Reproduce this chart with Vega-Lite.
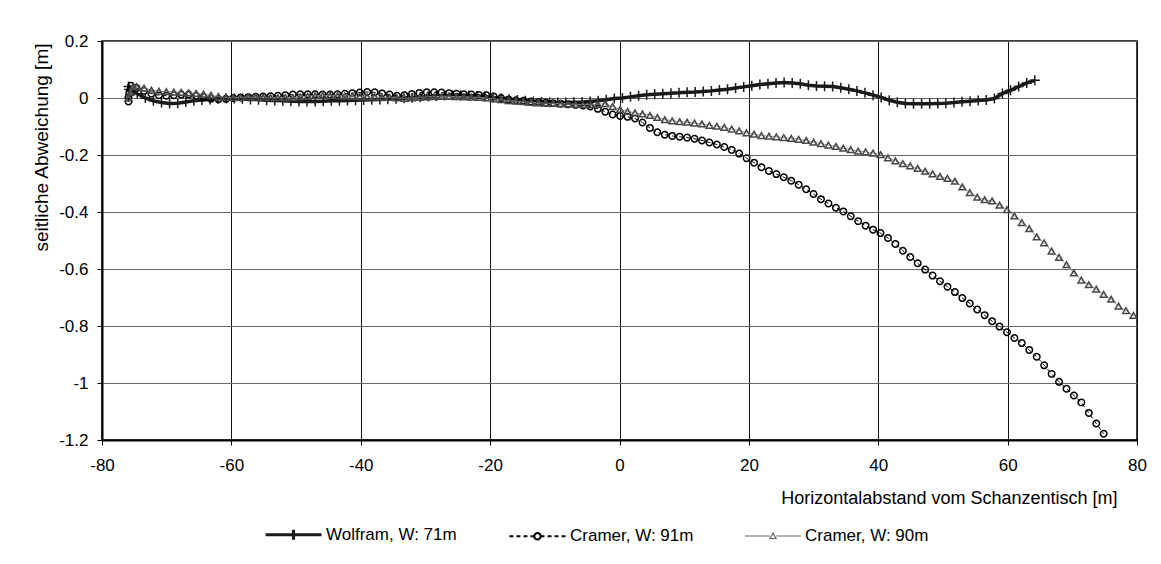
{
  "$schema": "https://vega.github.io/schema/vega-lite/v6.json",
  "width": 1035,
  "height": 399,
  "autosize": {"type": "none"},
  "padding": {"left": 102, "top": 41, "right": 24, "bottom": 124},
  "background": "white",
  "config": {
    "font": "Liberation Sans",
    "view": {"stroke": "#000", "strokeWidth": 1.5},
    "axis": {
      "labelFont": "Liberation Sans",
      "titleFont": "Liberation Sans",
      "labelFontSize": 17,
      "titleFontSize": 18,
      "titleFontWeight": "normal",
      "labelColor": "#000",
      "titleColor": "#000",
      "domainColor": "#000",
      "domainWidth": 2,
      "tickColor": "#000",
      "tickSize": 5,
      "tickWidth": 1,
      "gridOpacity": 1,
      "gridWidth": 1,
      "labelFlush": false
    },
    "legend": {
      "labelFont": "Liberation Sans",
      "labelFontSize": 17,
      "labelColor": "#000",
      "padding": 0
    }
  },
  "datasets": {
    "w": [
      {"x": -75.9, "y": 0.04}, {"x": -75.8, "y": 0.03}, {"x": -74.55, "y": 0.015}, {"x": -73.3, "y": 0.0}, {"x": -72.05, "y": -0.01},
      {"x": -70.8, "y": -0.016}, {"x": -69.55, "y": -0.019}, {"x": -68.3, "y": -0.018}, {"x": -67.05, "y": -0.014}, {"x": -65.8, "y": -0.01},
      {"x": -64.55, "y": -0.007}, {"x": -63.3, "y": -0.005}, {"x": -62.05, "y": -0.003}, {"x": -60.8, "y": -0.002}, {"x": -59.55, "y": -0.002},
      {"x": -58.3, "y": -0.003}, {"x": -57.05, "y": -0.005}, {"x": -55.8, "y": -0.006}, {"x": -54.55, "y": -0.008}, {"x": -53.3, "y": -0.009},
      {"x": -52.05, "y": -0.01}, {"x": -50.8, "y": -0.011}, {"x": -49.55, "y": -0.012}, {"x": -48.3, "y": -0.012}, {"x": -47.05, "y": -0.012},
      {"x": -45.8, "y": -0.011}, {"x": -44.55, "y": -0.01}, {"x": -43.3, "y": -0.01}, {"x": -42.05, "y": -0.009}, {"x": -40.8, "y": -0.008},
      {"x": -39.55, "y": -0.007}, {"x": -38.3, "y": -0.006}, {"x": -37.05, "y": -0.005}, {"x": -35.8, "y": -0.004}, {"x": -34.55, "y": -0.003},
      {"x": -33.3, "y": -0.001}, {"x": -32.05, "y": 0.001}, {"x": -30.8, "y": 0.003}, {"x": -29.55, "y": 0.005}, {"x": -28.3, "y": 0.007},
      {"x": -27.05, "y": 0.009}, {"x": -25.8, "y": 0.01}, {"x": -24.55, "y": 0.01}, {"x": -23.3, "y": 0.009}, {"x": -22.05, "y": 0.007},
      {"x": -20.8, "y": 0.005}, {"x": -19.55, "y": 0.002}, {"x": -18.3, "y": -0.001}, {"x": -17.05, "y": -0.004}, {"x": -15.8, "y": -0.007},
      {"x": -14.55, "y": -0.01}, {"x": -13.3, "y": -0.012}, {"x": -12.05, "y": -0.014}, {"x": -10.8, "y": -0.015}, {"x": -9.55, "y": -0.016},
      {"x": -8.3, "y": -0.016}, {"x": -7.05, "y": -0.015}, {"x": -5.8, "y": -0.014}, {"x": -4.55, "y": -0.012}, {"x": -3.3, "y": -0.01},
      {"x": -2.05, "y": -0.006}, {"x": -0.8, "y": -0.002}, {"x": 0.45, "y": 0.0}, {"x": 1.7, "y": 0.004}, {"x": 2.95, "y": 0.008},
      {"x": 4.2, "y": 0.011}, {"x": 5.45, "y": 0.013}, {"x": 6.7, "y": 0.015}, {"x": 7.95, "y": 0.017}, {"x": 9.2, "y": 0.018},
      {"x": 10.45, "y": 0.02}, {"x": 11.7, "y": 0.021}, {"x": 12.95, "y": 0.023}, {"x": 14.2, "y": 0.025}, {"x": 15.45, "y": 0.028},
      {"x": 16.7, "y": 0.031}, {"x": 17.95, "y": 0.035}, {"x": 19.2, "y": 0.039}, {"x": 20.45, "y": 0.043}, {"x": 21.7, "y": 0.047},
      {"x": 22.95, "y": 0.05}, {"x": 24.2, "y": 0.053}, {"x": 25.45, "y": 0.054}, {"x": 26.7, "y": 0.053}, {"x": 27.95, "y": 0.05},
      {"x": 29.2, "y": 0.045}, {"x": 30.45, "y": 0.042}, {"x": 31.7, "y": 0.041}, {"x": 32.95, "y": 0.04}, {"x": 34.2, "y": 0.036},
      {"x": 35.45, "y": 0.031}, {"x": 36.7, "y": 0.025}, {"x": 37.95, "y": 0.018}, {"x": 39.2, "y": 0.01}, {"x": 40.45, "y": 0.002},
      {"x": 41.7, "y": -0.008}, {"x": 42.95, "y": -0.015}, {"x": 44.2, "y": -0.019}, {"x": 45.45, "y": -0.02}, {"x": 46.7, "y": -0.02},
      {"x": 47.95, "y": -0.02}, {"x": 49.2, "y": -0.019}, {"x": 50.45, "y": -0.018}, {"x": 51.7, "y": -0.016}, {"x": 52.95, "y": -0.013},
      {"x": 54.2, "y": -0.011}, {"x": 55.45, "y": -0.009}, {"x": 56.7, "y": -0.007}, {"x": 57.95, "y": -0.002}, {"x": 59.2, "y": 0.016},
      {"x": 60.45, "y": 0.027}, {"x": 61.7, "y": 0.04}, {"x": 62.95, "y": 0.053}, {"x": 64.2, "y": 0.062}
    ],
    "a": [
      {"x": -75.9, "y": -0.012}, {"x": -75.9, "y": 0.002}, {"x": -75.8, "y": 0.016}, {"x": -75.6, "y": 0.03}, {"x": -75.5, "y": 0.043},
      {"x": -74.65, "y": 0.035}, {"x": -73.5, "y": 0.025}, {"x": -72.35, "y": 0.015}, {"x": -71.2, "y": 0.01}, {"x": -70.05, "y": 0.008},
      {"x": -68.9, "y": 0.01}, {"x": -67.75, "y": 0.012}, {"x": -66.6, "y": 0.012}, {"x": -65.45, "y": 0.008}, {"x": -64.3, "y": 0.003},
      {"x": -63.15, "y": -0.002}, {"x": -62.0, "y": -0.004}, {"x": -60.85, "y": -0.003}, {"x": -59.7, "y": 0.0}, {"x": -58.55, "y": 0.002},
      {"x": -57.4, "y": 0.003}, {"x": -56.25, "y": 0.004}, {"x": -55.1, "y": 0.005}, {"x": -53.95, "y": 0.006}, {"x": -52.8, "y": 0.008},
      {"x": -51.65, "y": 0.01}, {"x": -50.5, "y": 0.012}, {"x": -49.35, "y": 0.013}, {"x": -48.2, "y": 0.013}, {"x": -47.05, "y": 0.013},
      {"x": -45.9, "y": 0.012}, {"x": -44.75, "y": 0.012}, {"x": -43.6, "y": 0.013}, {"x": -42.45, "y": 0.015}, {"x": -41.3, "y": 0.017},
      {"x": -40.15, "y": 0.019}, {"x": -39.0, "y": 0.021}, {"x": -37.85, "y": 0.02}, {"x": -36.7, "y": 0.016}, {"x": -35.55, "y": 0.012},
      {"x": -34.4, "y": 0.008}, {"x": -33.25, "y": 0.01}, {"x": -32.1, "y": 0.014}, {"x": -30.95, "y": 0.018}, {"x": -29.8, "y": 0.02},
      {"x": -28.65, "y": 0.02}, {"x": -27.5, "y": 0.019}, {"x": -26.35, "y": 0.017}, {"x": -25.2, "y": 0.015}, {"x": -24.05, "y": 0.013},
      {"x": -22.9, "y": 0.012}, {"x": -21.75, "y": 0.011}, {"x": -20.6, "y": 0.01}, {"x": -19.45, "y": 0.005}, {"x": -18.3, "y": 0.0},
      {"x": -17.15, "y": -0.005}, {"x": -16.0, "y": -0.008}, {"x": -14.85, "y": -0.01}, {"x": -13.7, "y": -0.012}, {"x": -12.55, "y": -0.014},
      {"x": -11.4, "y": -0.016}, {"x": -10.25, "y": -0.018}, {"x": -9.1, "y": -0.02}, {"x": -7.95, "y": -0.022}, {"x": -6.8, "y": -0.024},
      {"x": -5.65, "y": -0.026}, {"x": -4.5, "y": -0.03}, {"x": -3.35, "y": -0.038}, {"x": -2.2, "y": -0.048}, {"x": -1.05, "y": -0.058},
      {"x": 0.1, "y": -0.063}, {"x": 1.25, "y": -0.066}, {"x": 2.4, "y": -0.072}, {"x": 3.55, "y": -0.086}, {"x": 4.7, "y": -0.105},
      {"x": 5.85, "y": -0.12}, {"x": 7.0, "y": -0.129}, {"x": 8.15, "y": -0.133}, {"x": 9.3, "y": -0.136}, {"x": 10.45, "y": -0.139},
      {"x": 11.6, "y": -0.143}, {"x": 12.75, "y": -0.149}, {"x": 13.9, "y": -0.156}, {"x": 15.05, "y": -0.163}, {"x": 16.2, "y": -0.172},
      {"x": 17.35, "y": -0.182}, {"x": 18.5, "y": -0.195}, {"x": 19.65, "y": -0.211}, {"x": 20.8, "y": -0.227}, {"x": 21.95, "y": -0.243},
      {"x": 23.1, "y": -0.256}, {"x": 24.25, "y": -0.267}, {"x": 25.4, "y": -0.278}, {"x": 26.55, "y": -0.29}, {"x": 27.7, "y": -0.304},
      {"x": 28.85, "y": -0.32}, {"x": 30.0, "y": -0.337}, {"x": 31.15, "y": -0.355}, {"x": 32.3, "y": -0.37}, {"x": 33.45, "y": -0.385},
      {"x": 34.6, "y": -0.398}, {"x": 35.75, "y": -0.415}, {"x": 36.9, "y": -0.432}, {"x": 38.05, "y": -0.448}, {"x": 39.2, "y": -0.462},
      {"x": 40.35, "y": -0.474}, {"x": 41.5, "y": -0.491}, {"x": 42.65, "y": -0.512}, {"x": 43.8, "y": -0.536}, {"x": 44.95, "y": -0.558},
      {"x": 46.1, "y": -0.58}, {"x": 47.25, "y": -0.602}, {"x": 48.4, "y": -0.623}, {"x": 49.55, "y": -0.643}, {"x": 50.7, "y": -0.662},
      {"x": 51.85, "y": -0.681}, {"x": 53.0, "y": -0.702}, {"x": 54.15, "y": -0.721}, {"x": 55.3, "y": -0.742}, {"x": 56.45, "y": -0.762},
      {"x": 57.6, "y": -0.783}, {"x": 58.75, "y": -0.802}, {"x": 59.9, "y": -0.822}, {"x": 61.05, "y": -0.842}, {"x": 62.2, "y": -0.86},
      {"x": 63.35, "y": -0.884}, {"x": 64.5, "y": -0.908}, {"x": 65.65, "y": -0.938}, {"x": 66.8, "y": -0.968}, {"x": 67.95, "y": -0.996},
      {"x": 69.1, "y": -1.02}, {"x": 70.25, "y": -1.044}, {"x": 71.4, "y": -1.068}, {"x": 72.55, "y": -1.105}, {"x": 73.7, "y": -1.142},
      {"x": 74.85, "y": -1.178}
    ],
    "b": [
      {"x": -75.9, "y": 0.0}, {"x": -75.6, "y": 0.02}, {"x": -75.2, "y": 0.04}, {"x": -74.65, "y": 0.04}, {"x": -73.5, "y": 0.035},
      {"x": -72.35, "y": 0.028}, {"x": -71.2, "y": 0.024}, {"x": -70.05, "y": 0.022}, {"x": -68.9, "y": 0.021}, {"x": -67.75, "y": 0.02},
      {"x": -66.6, "y": 0.018}, {"x": -65.45, "y": 0.016}, {"x": -64.3, "y": 0.014}, {"x": -63.15, "y": 0.01}, {"x": -62.0, "y": 0.005},
      {"x": -60.85, "y": 0.002}, {"x": -59.7, "y": 0.001}, {"x": -58.55, "y": 0.002}, {"x": -57.4, "y": 0.003}, {"x": -56.25, "y": 0.003},
      {"x": -55.1, "y": 0.003}, {"x": -53.95, "y": 0.002}, {"x": -52.8, "y": 0.001}, {"x": -51.65, "y": 0.001}, {"x": -50.5, "y": 0.002},
      {"x": -49.35, "y": 0.004}, {"x": -48.2, "y": 0.006}, {"x": -47.05, "y": 0.008}, {"x": -45.9, "y": 0.009}, {"x": -44.75, "y": 0.009},
      {"x": -43.6, "y": 0.008}, {"x": -42.45, "y": 0.007}, {"x": -41.3, "y": 0.006}, {"x": -40.15, "y": 0.005}, {"x": -39.0, "y": 0.004},
      {"x": -37.85, "y": 0.004}, {"x": -36.7, "y": 0.003}, {"x": -35.55, "y": 0.002}, {"x": -34.4, "y": 0.0}, {"x": -33.25, "y": -0.001},
      {"x": -32.1, "y": 0.0}, {"x": -30.95, "y": 0.002}, {"x": -29.8, "y": 0.004}, {"x": -28.65, "y": 0.005}, {"x": -27.5, "y": 0.006},
      {"x": -26.35, "y": 0.006}, {"x": -25.2, "y": 0.005}, {"x": -24.05, "y": 0.004}, {"x": -22.9, "y": 0.003}, {"x": -21.75, "y": 0.002},
      {"x": -20.6, "y": 0.0}, {"x": -19.45, "y": -0.003}, {"x": -18.3, "y": -0.006}, {"x": -17.15, "y": -0.009}, {"x": -16.0, "y": -0.011},
      {"x": -14.85, "y": -0.013}, {"x": -13.7, "y": -0.015}, {"x": -12.55, "y": -0.017}, {"x": -11.4, "y": -0.018}, {"x": -10.25, "y": -0.019},
      {"x": -9.1, "y": -0.02}, {"x": -7.95, "y": -0.021}, {"x": -6.8, "y": -0.022}, {"x": -5.65, "y": -0.023}, {"x": -4.5, "y": -0.024},
      {"x": -3.35, "y": -0.022}, {"x": -2.2, "y": -0.02}, {"x": -1.05, "y": -0.03}, {"x": 0.1, "y": -0.04}, {"x": 1.25, "y": -0.047},
      {"x": 2.4, "y": -0.052}, {"x": 3.55, "y": -0.056}, {"x": 4.7, "y": -0.061}, {"x": 5.85, "y": -0.068}, {"x": 7.0, "y": -0.076},
      {"x": 8.15, "y": -0.08}, {"x": 9.3, "y": -0.083}, {"x": 10.45, "y": -0.085}, {"x": 11.6, "y": -0.088}, {"x": 12.75, "y": -0.091},
      {"x": 13.9, "y": -0.096}, {"x": 15.05, "y": -0.099}, {"x": 16.2, "y": -0.103}, {"x": 17.35, "y": -0.109}, {"x": 18.5, "y": -0.115},
      {"x": 19.65, "y": -0.122}, {"x": 20.8, "y": -0.127}, {"x": 21.95, "y": -0.132}, {"x": 23.1, "y": -0.134}, {"x": 24.25, "y": -0.136},
      {"x": 25.4, "y": -0.139}, {"x": 26.55, "y": -0.142}, {"x": 27.7, "y": -0.145}, {"x": 28.85, "y": -0.149}, {"x": 30.0, "y": -0.155},
      {"x": 31.15, "y": -0.16}, {"x": 32.3, "y": -0.165}, {"x": 33.45, "y": -0.17}, {"x": 34.6, "y": -0.176}, {"x": 35.75, "y": -0.181},
      {"x": 36.9, "y": -0.186}, {"x": 38.05, "y": -0.189}, {"x": 39.2, "y": -0.193}, {"x": 40.35, "y": -0.199}, {"x": 41.5, "y": -0.21},
      {"x": 42.65, "y": -0.221}, {"x": 43.8, "y": -0.23}, {"x": 44.95, "y": -0.238}, {"x": 46.1, "y": -0.247}, {"x": 47.25, "y": -0.257},
      {"x": 48.4, "y": -0.266}, {"x": 49.55, "y": -0.275}, {"x": 50.7, "y": -0.282}, {"x": 51.85, "y": -0.292}, {"x": 53.0, "y": -0.312},
      {"x": 54.15, "y": -0.332}, {"x": 55.3, "y": -0.348}, {"x": 56.45, "y": -0.357}, {"x": 57.6, "y": -0.361}, {"x": 58.75, "y": -0.376},
      {"x": 59.9, "y": -0.392}, {"x": 61.05, "y": -0.414}, {"x": 62.2, "y": -0.437}, {"x": 63.35, "y": -0.458}, {"x": 64.5, "y": -0.487},
      {"x": 65.65, "y": -0.508}, {"x": 66.8, "y": -0.537}, {"x": 67.95, "y": -0.559}, {"x": 69.1, "y": -0.585}, {"x": 70.25, "y": -0.614},
      {"x": 71.4, "y": -0.639}, {"x": 72.55, "y": -0.655}, {"x": 73.7, "y": -0.671}, {"x": 74.85, "y": -0.689}, {"x": 76.0, "y": -0.706},
      {"x": 77.15, "y": -0.73}, {"x": 78.3, "y": -0.746}, {"x": 79.45, "y": -0.763}
    ],
    "leg": [
      {"s": "Wolfram, W: 71m"},
      {"s": "Cramer, W: 91m"},
      {"s": "Cramer, W: 90m"}
    ]
  },
  "encoding": {
    "x": {
      "field": "x",
      "type": "quantitative",
      "scale": {"domain": [-80, 80], "nice": false, "zero": false},
      "axis": {
        "values": [-80, -60, -40, -20, 0, 20, 40, 60, 80],
        "labelExpr": "'' + datum.value",
        "grid": true,
        "gridColor": "#111",
        "labelPadding": 12,
        "title": "Horizontalabstand vom Schanzentisch [m]",
        "titleAlign": "right",
        "titleAnchor": "end",
        "titleX": 1015,
        "titleY": 63,
        "titleBaseline": "alphabetic"
      }
    },
    "y": {
      "field": "y",
      "type": "quantitative",
      "scale": {"domain": [-1.2, 0.2], "nice": false, "zero": false},
      "axis": {
        "values": [-1.2, -1, -0.8, -0.6, -0.4, -0.2, 0, 0.2],
        "labelExpr": "'' + datum.value",
        "grid": true,
        "gridColor": "#666",
        "labelPadding": 9,
        "title": "seitliche Abweichung [m]",
        "titleFontSize": 19,
        "titleAngle": 270,
        "titleAlign": "right",
        "titleBaseline": "alphabetic",
        "titleX": -55,
        "titleY": 2
      }
    }
  },
  "layer": [
    {
      "data": {"name": "w"},
      "mark": {"type": "line", "color": "#1a1a1a", "strokeWidth": 3.5}
    },
    {
      "data": {"name": "w"},
      "mark": {"type": "point", "shape": "M-1,0H1M0,-1V1", "size": 100, "filled": false, "stroke": "#1a1a1a", "strokeWidth": 1.5, "opacity": 1}
    },
    {
      "data": {"name": "a"},
      "mark": {"type": "line", "color": "#000", "strokeWidth": 1, "strokeDash": [4, 3]}
    },
    {
      "data": {"name": "a"},
      "mark": {"type": "point", "shape": "circle", "size": 42, "filled": false, "stroke": "#000", "strokeWidth": 1.5, "opacity": 1}
    },
    {
      "data": {"name": "b"},
      "mark": {"type": "line", "color": "#999", "strokeWidth": 1}
    },
    {
      "data": {"name": "b"},
      "mark": {"type": "point", "shape": "triangle-up", "size": 44, "filled": false, "stroke": "#474747", "strokeWidth": 1.5, "opacity": 1}
    },
    {
      "data": {"name": "leg"},
      "mark": {"type": "point", "filled": false, "opacity": 0},
      "encoding": {
        "x": {"value": 0},
        "y": {"value": 0},
        "color": {
          "field": "s",
          "type": "nominal",
          "sort": null,
          "scale": {"domain": ["Wolfram, W: 71m", "Cramer, W: 91m", "Cramer, W: 90m"], "range": ["#1a1a1a", "#000", "#666"]},
          "legend": {
            "title": null,
            "orient": "none",
            "direction": "horizontal",
            "legendX": 162,
            "legendY": 464,
            "symbolSize": 3136,
            "symbolOpacity": 1,
            "labelOffset": 3,
            "columnPadding": 48
          }
        },
        "shape": {
          "field": "s",
          "type": "nominal",
          "sort": null,
          "scale": {
            "domain": ["Wolfram, W: 71m", "Cramer, W: 91m", "Cramer, W: 90m"],
            "range": [
              "M-1,0H1M0,-0.18V0.18",
              "M-1,0H-0.86M-0.75,0H-0.61M-0.5,0H-0.36M-0.25,0H-0.15M0.15,0H0.25M0.36,0H0.5M0.61,0H0.75M0.86,0H1M0.115,0A0.115,0.115,0,1,1,-0.115,0A0.115,0.115,0,1,1,0.115,0",
              "M-1,0H-0.12M0.12,0H1M0,-0.1L0.11,0.09L-0.11,0.09Z"
            ]
          },
          "legend": {
            "title": null,
            "orient": "none",
            "direction": "horizontal",
            "legendX": 162,
            "legendY": 464,
            "symbolSize": 3136,
            "symbolOpacity": 1,
            "labelOffset": 3,
            "columnPadding": 48
          }
        },
        "strokeWidth": {
          "field": "s",
          "type": "nominal",
          "sort": null,
          "scale": {"domain": ["Wolfram, W: 71m", "Cramer, W: 91m", "Cramer, W: 90m"], "range": [3, 1.2, 1]},
          "legend": {
            "title": null,
            "orient": "none",
            "direction": "horizontal",
            "legendX": 162,
            "legendY": 464,
            "symbolSize": 3136,
            "symbolOpacity": 1,
            "labelOffset": 3,
            "columnPadding": 48
          }
        }
      }
    }
  ]
}
